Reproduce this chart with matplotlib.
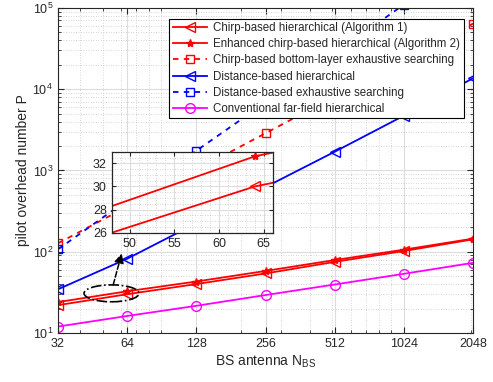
import numpy as np
import matplotlib
matplotlib.use("Agg")
import matplotlib.pyplot as plt
from matplotlib.patches import Ellipse
from matplotlib.ticker import FixedLocator, NullFormatter, LogLocator, AutoMinorLocator

plt.rcParams["font.family"] = ["Liberation Sans", "DejaVu Sans"]
plt.rcParams["mathtext.fontset"] = "custom"
plt.rcParams["mathtext.rm"] = "Liberation Sans"
plt.rcParams["mathtext.it"] = "Liberation Sans"

# Data
n_bs = [32, 64, 128, 256, 512, 1024, 2048]
chirp_alg1 = [22, 30, 40, 54, 75, 102, 142]
chirp_alg2 = [24, 32.6, 43, 58, 79, 106, 145]
chirp_exhaustive = [127, 358, 1014, 2870, 8110, 22900, 64100]
dist_hier = [34.5, 82, 224, 625, 1700, 4720, 13650]
dist_exhaustive = [107, 430, 1750, 6850, 27400, 110000, 440000]
farfield_hier = [12, 16.2, 21.6, 29.3, 39.5, 53.5, 73]

labels = [
    "Chirp-based hierarchical (Algorithm 1)",
    "Enhanced chirp-based hierarchical (Algorithm 2)",
    "Chirp-based bottom-layer exhaustive searching",
    "Distance-based hierarchical",
    "Distance-based exhaustive searching",
    "Conventional far-field hierarchical",
]

txt = "#262626"
red = "#ff0000"
blue = "#0000ff"
mag = "#ff00ff"

fig = plt.figure(figsize=(4.93, 3.82), dpi=100)
ax = fig.add_axes([0.1176, 0.1283, 0.842, 0.851])

lw = 1.3
ms = 7
ax.plot(n_bs, chirp_alg1, color=red, lw=lw, marker="<", ms=ms, mfc="none", label=labels[0])
ax.plot(n_bs, chirp_alg2, color=red, lw=lw, marker="*", ms=6, label=labels[1])
ax.plot(n_bs, chirp_exhaustive, color=red, lw=lw, ls=(0, (3, 3)), marker="s", ms=6, mfc="none", label=labels[2])
ax.plot(n_bs, dist_hier, color=blue, lw=lw, marker="<", ms=ms, mfc="none", label=labels[3])
ax.plot(n_bs, dist_exhaustive, color=blue, lw=lw, ls=(0, (3, 3)), marker="s", ms=6, mfc="none", label=labels[4])
ax.plot(n_bs, farfield_hier, color=mag, lw=lw, marker="o", ms=ms, mfc="none", label=labels[5])

ax.set_xscale("log")
ax.set_yscale("log")
ax.set_xlim(32, 2048)
ax.set_ylim(10, 1e5)
ax.xaxis.set_major_locator(FixedLocator(n_bs))
ax.set_xticklabels([str(v) for v in n_bs])
ax.xaxis.set_minor_locator(LogLocator(base=10, subs=np.arange(2, 10)))
ax.xaxis.set_minor_formatter(NullFormatter())
ax.yaxis.set_major_locator(FixedLocator([1e1, 1e2, 1e3, 1e4, 1e5]))
ax.set_yticklabels([r"$10^{%d}$" % k for k in range(1, 6)])
ax.yaxis.set_minor_locator(LogLocator(base=10, subs=np.arange(2, 10)))
ax.yaxis.set_minor_formatter(NullFormatter())

ax.grid(True, which="major", color="#dcdcdc", lw=0.8, ls="-")
ax.grid(True, which="minor", color="#c8c8c8", lw=0.6, ls=(0, (1, 2)))
ax.set_axisbelow(True)
ax.tick_params(which="both", direction="in", top=True, right=True, colors=txt, labelsize=9)
ax.tick_params(which="major", length=4)
ax.tick_params(which="minor", length=2)
for s in ax.spines.values():
    s.set_color(txt)
    s.set_linewidth(0.8)

ax.set_xlabel(r"BS antenna N$_{\rm BS}$", fontsize=10, color=txt, labelpad=3)
ax.set_ylabel("pilot overhead number P", fontsize=10, color=txt, labelpad=2)

leg = ax.legend(loc="upper right", bbox_to_anchor=(0.977, 0.967), borderaxespad=0,
                fontsize=8.3, fancybox=False, framealpha=1, edgecolor="black",
                handlelength=3.0, labelspacing=0.36, borderpad=0.3, handletextpad=0.5)
leg.get_frame().set_linewidth(0.8)
for t in leg.get_texts():
    t.set_color(txt)

# zoom marker
ell = Ellipse((0.129, 0.122), 0.1325, 0.052, transform=ax.transAxes, fill=False,
              ec="black", lw=1.2, ls="-.", zorder=5)
ax.add_patch(ell)
ax.annotate("", xy=(0.1535, 0.245), xytext=(0.133, 0.148), xycoords="axes fraction",
            arrowprops=dict(arrowstyle="-|>", color="black", lw=1.1, ls="--",
                            mutation_scale=14, shrinkA=0, shrinkB=0), zorder=5)

# inset
axi = fig.add_axes([0.2266, 0.3908, 0.3266, 0.212])
axi.plot(n_bs, chirp_alg1, color=red, lw=lw, marker="<", ms=ms, mfc="none")
axi.plot(n_bs, chirp_alg2, color=red, lw=lw, marker="*", ms=6)
axi.set_xlim(48, 66)
axi.set_ylim(26, 33)
axi.set_xticks([50, 55, 60, 65])
axi.set_yticks([26, 28, 30, 32])
axi.xaxis.set_minor_locator(AutoMinorLocator(5))
axi.yaxis.set_minor_locator(AutoMinorLocator(4))
axi.grid(True, which="major", color="#dcdcdc", lw=0.8, ls="-")
axi.grid(True, which="minor", color="#c8c8c8", lw=0.6, ls=(0, (1, 2)))
axi.set_axisbelow(True)
axi.tick_params(which="both", direction="in", top=True, right=True, colors=txt, labelsize=9)
axi.tick_params(which="major", length=3)
axi.tick_params(which="minor", length=0)
for s in axi.spines.values():
    s.set_color(txt)
    s.set_linewidth(0.9)

fig.savefig("out.png", dpi=100)
